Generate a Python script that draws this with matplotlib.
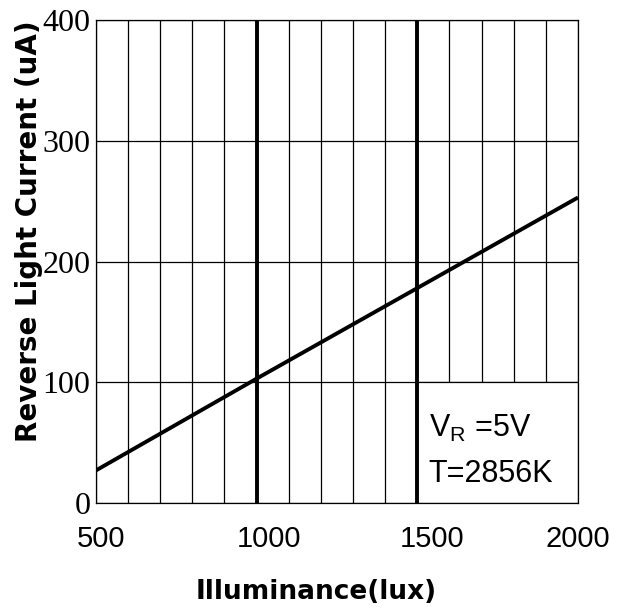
import numpy as np
import matplotlib.pyplot as plt
import matplotlib.transforms as mtransforms
from matplotlib.patches import Rectangle

# illuminance vs reverse light current
lux = [500, 1000, 1500, 2000]
current = [27, 103, 178, 253]

x_ticks = [500, 1000, 1500, 2000]
y_ticks = [0, 100, 200, 300, 400]
bold_lines = [1000, 1500]

fig = plt.figure(figsize=(6.24, 6.10), dpi=100)
ax = fig.add_axes([0.1538, 0.1754, 0.7724, 0.7918])

ax.set_xlim(500, 2000)
ax.set_ylim(0, 400)

# grid
for gx in np.arange(500, 2001, 100):
    ax.axvline(gx, color="black", lw=0.9, zorder=1)
for gy in y_ticks:
    ax.axhline(gy, color="black", lw=0.9, zorder=1)

# white box for the conditions
ax.add_patch(Rectangle((1500, 0), 500, 100, facecolor="white", edgecolor="black",
                       lw=0.9, zorder=2))

for bx in bold_lines:
    ax.axvline(bx, color="black", lw=2.8, zorder=3)

ax.plot(lux, current, color="black", lw=2.8, zorder=4, solid_capstyle="butt")

ax.text(1535, 62, r"V$_\mathregular{R}$ =5V", fontsize=22, family="Liberation Sans",
        va="center", ha="left", zorder=5)
ax.text(1535, 24, "T=2856K", fontsize=22, family="Liberation Sans",
        va="center", ha="left", zorder=5)

for s in ax.spines.values():
    s.set_linewidth(0.9)

ax.set_xticks(x_ticks)
ax.set_xticklabels([str(v) for v in x_ticks], family="Liberation Sans", fontsize=21)
ax.set_yticks(y_ticks)
ax.set_yticklabels([str(v) for v in y_ticks], family="Liberation Serif", fontsize=23)
ax.tick_params(axis="x", length=0, pad=16)
ax.tick_params(axis="y", length=0, pad=4)

# the original labels sit a little right of their grid lines
shifts = [5, 12, 15, 0]
for lab, dx in zip(ax.get_xticklabels(), shifts):
    lab.set_transform(lab.get_transform() +
                      mtransforms.ScaledTranslation(dx / 100, 0, fig.dpi_scale_trans))

ax.set_xlabel("Illuminance(lux)", fontsize=19, fontweight="bold",
              family="DejaVu Sans", va="center")
ax.xaxis.set_label_coords(0.456, -0.184)
ax.set_ylabel("Reverse Light Current (uA)", fontsize=20, fontweight="bold",
              family="DejaVu Sans")
ax.yaxis.set_label_coords(-0.11, 0.563)

plt.savefig("out.png", dpi=100)
